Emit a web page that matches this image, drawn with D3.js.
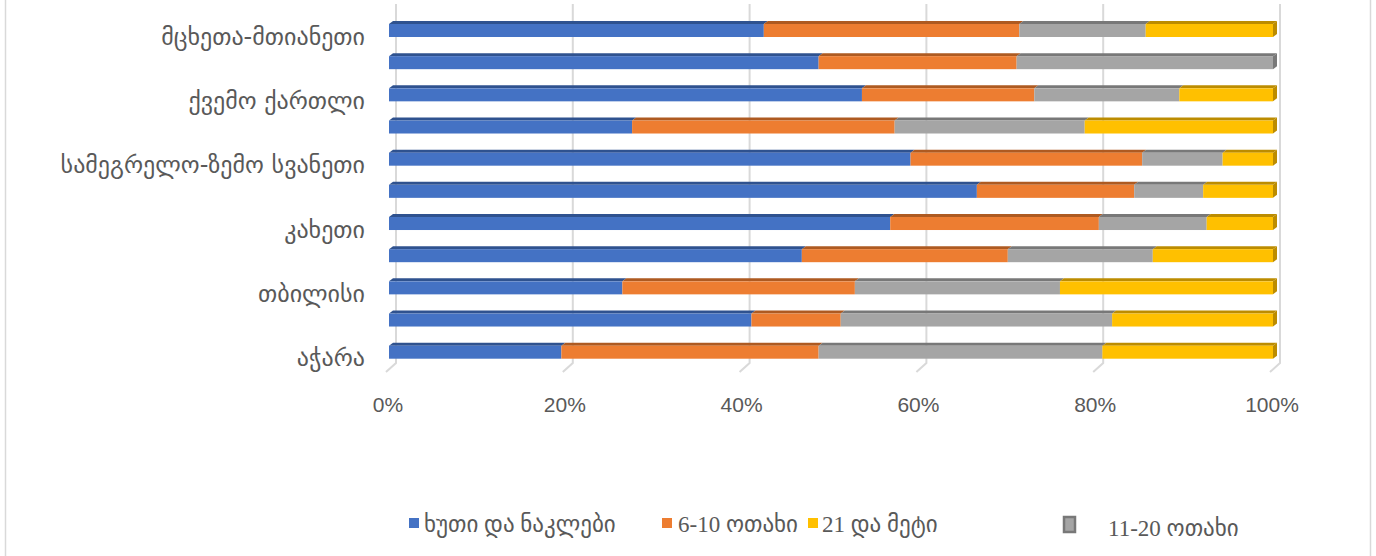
<!DOCTYPE html>
<html>
<head>
<meta charset="utf-8">
<script src="https://cdn.jsdelivr.net/npm/d3@7"></script>
<style>
  html, body { margin: 0; padding: 0; background: #fff; }
  svg { display: block; }
</style>
</head>
<body>
<svg id="chart" width="1376" height="556"></svg>
<script>
// Regions, bottom to top (first category sits at the bottom of the chart)
const categories = [
  "აჭარა",
  "გურია",
  "თბილისი",
  "იმერეთი",
  "კახეთი",
  "რაჭა-ლეჩხუმი და ქვემო სვანეთი",
  "სამეგრელო-ზემო სვანეთი",
  "სამცხე-ჯავახეთი",
  "ქვემო ქართლი",
  "შიდა ქართლი",
  "მცხეთა-მთიანეთი"
];
// Only every other category name is printed on the axis
const shownLabels = [
  "აჭარა", "თბილისი", "კახეთი", "სამეგრელო-ზემო სვანეთი", "ქვემო ქართლი", "მცხეთა-მთიანეთი"
];

// Share of establishments (%) by number of rooms
const fiveOrLess     = [19.5, 41.0, 26.4, 46.7, 56.7, 66.5, 59.0, 27.5, 53.5, 48.6, 42.4];
const sixToTen       = [29.1, 10.1, 26.3, 23.3, 23.6, 17.8, 26.2, 29.7, 19.5, 22.4, 28.9];
const elevenToTwenty = [32.1, 30.7, 23.2, 16.4, 12.2, 7.8, 9.1, 21.5, 16.4, 29.0, 14.3];
const twentyOneUp    = [19.3, 18.2, 24.1, 13.6, 7.5, 7.9, 5.7, 21.3, 10.6, 0.0, 14.4];

const xTicks = [0, 20, 40, 60, 80, 100];

const seriesNames = ["ხუთი და ნაკლები", "6-10 ოთახი", "11-20 ოთახი", "21 და მეტი"];
const seriesKeys = ["s1", "s2", "s3", "s4"];
const faceColors = ["#4472C4", "#ED7D31", "#A5A5A5", "#FFC000"];
const topColors  = ["#2F528F", "#AE5A21", "#787878", "#BC8C00"];

const rows = categories.map((c, i) => ({
  category: c,
  s1: fiveOrLess[i], s2: sixToTen[i], s3: elevenToTwenty[i], s4: twentyOneUp[i]
}));

const svg = d3.select("#chart");

// Outer frame (left and right edges only)
svg.append("line").attr("x1", 5.5).attr("x2", 5.5).attr("y1", 0).attr("y2", 556)
  .attr("stroke", "#d9d9d9").attr("stroke-width", 1.5);
svg.append("line").attr("x1", 1370.5).attr("x2", 1370.5).attr("y1", 0).attr("y2", 556)
  .attr("stroke", "#d9d9d9").attr("stroke-width", 1.5);

const x = d3.scaleLinear().domain([0, 100]).range([389, 1273]);
const y = d3.scaleBand()
  .domain(categories.slice().reverse())
  .range([21, 21 + 11 * 32.17])
  .paddingInner(0).paddingOuter(0);

const depthX = 4, depthY = 3;   // bar extrusion
const faceH = 13;               // front face height

// Back-wall gridlines with a short floor segment toward the viewer
const grid = svg.append("g");
xTicks.forEach(t => {
  const xb = x(t) + 7, xf = x(t) - 3;
  grid.append("path")
    .attr("d", `M${xb},4 L${xb},363 L${xf},372`)
    .attr("fill", "none")
    .attr("stroke", "#d9d9d9")
    .attr("stroke-width", 2);
});

// Stacked bars
const stack = d3.stack().keys(seriesKeys);
const layers = stack(rows);

const bars = svg.append("g");
layers.forEach((layer, si) => {
  layer.forEach(seg => {
    const cat = seg.data.category;
    const x0 = x(seg[0]), x1 = x(seg[1]);
    if (x1 - x0 <= 0) return;
    const ft = y(cat) + depthY;     // front face top
    const fb = ft + faceH;          // front face bottom
    // top face
    bars.append("path")
      .attr("d", `M${x0},${ft} L${x0 + depthX},${ft - depthY} L${x1 + depthX},${ft - depthY} L${x1},${ft} Z`)
      .attr("fill", topColors[si]);
    // front face
    bars.append("rect")
      .attr("x", x0).attr("y", ft)
      .attr("width", x1 - x0).attr("height", faceH)
      .attr("fill", faceColors[si]);
    // right side face on the outermost segment
    if (Math.abs(seg[1] - 100) < 0.01) {
      bars.append("path")
        .attr("d", `M${x1},${ft} L${x1 + depthX},${ft - depthY} L${x1 + depthX},${fb - depthY} L${x1},${fb} Z`)
        .attr("fill", topColors[si]);
    }
  });
});

// Category axis labels
const catAxis = svg.append("g");
categories.forEach(c => {
  if (!shownLabels.includes(c)) return;
  catAxis.append("text")
    .attr("x", 365)
    .attr("y", y(c) + depthY + faceH / 2 + 14)
    .attr("text-anchor", "end")
    .attr("font-family", "'DejaVu Sans', 'Noto Sans', sans-serif")
    .attr("font-size", 24)
    .attr("fill", "#595959")
    .text(c);
});

// Value axis labels
const valAxis = svg.append("g");
xTicks.forEach(t => {
  valAxis.append("text")
    .attr("x", x(t) - 1)
    .attr("y", 412)
    .attr("text-anchor", "middle")
    .attr("font-family", "'Liberation Sans', Arial, sans-serif")
    .attr("font-size", 21)
    .attr("fill", "#595959")
    .text(t + "%");
});

// Legend
const legend = svg.append("g")
  .attr("font-family", "'Liberation Serif', 'DejaVu Sans', serif")
  .attr("font-size", 23)
  .attr("fill", "#595959");

const legendItems = [
  { idx: 0, sx: 409, tx: 424 },
  { idx: 1, sx: 662, tx: 678 },
  { idx: 3, sx: 808, tx: 822 }
];
legendItems.forEach(it => {
  legend.append("rect")
    .attr("x", it.sx).attr("y", 518).attr("width", 10).attr("height", 10)
    .attr("fill", faceColors[it.idx]);
  legend.append("text")
    .attr("x", it.tx).attr("y", 532)
    .text(seriesNames[it.idx]);
});
// Gray series marker drawn as a small extruded block
legend.append("rect")
  .attr("x", 1064).attr("y", 517).attr("width", 11).attr("height", 15)
  .attr("fill", faceColors[2]).attr("stroke", topColors[2]).attr("stroke-width", 2.5);
legend.append("text")
  .attr("x", 1108).attr("y", 536)
  .text(seriesNames[2]);
</script>
</body>
</html>
